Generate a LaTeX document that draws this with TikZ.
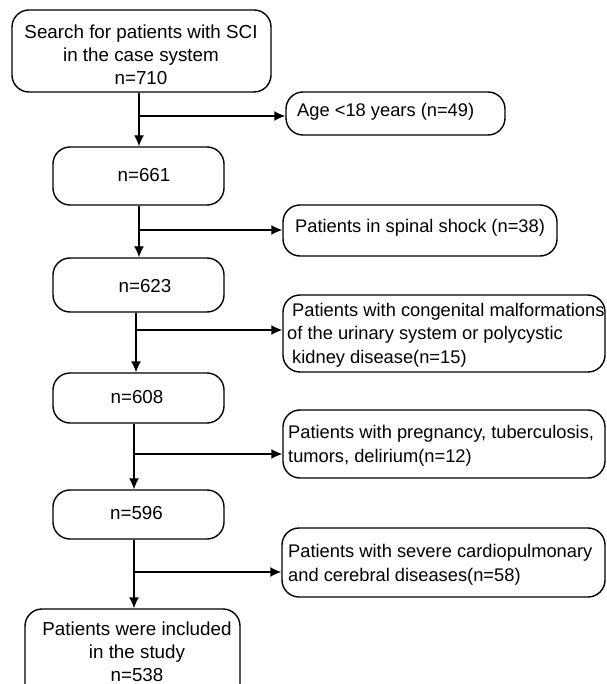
\documentclass[tikz,border=0pt]{standalone}
\usepackage{fontspec}
\setmainfont{Liberation Sans}
\usetikzlibrary{arrows.meta}
\begin{document}
\begin{tikzpicture}[x=1pt,y=1pt,
  box/.style={draw, line width=1.4pt, rounded corners=17pt, inner sep=0pt},
  mtxt/.style={inner sep=0pt, align=center, font=\fontsize{18.8pt}{23pt}\selectfont, anchor=base},
  etxt/.style={inner sep=0pt, align=left, font=\fontsize{18.3pt}{23.5pt}\selectfont, anchor=base west},
  arr/.style={line width=1.4pt, -{Latex[length=11pt,width=10pt]}}]
\clip (0,0) rectangle (606,-684);
\fill[white] (0,0) rectangle (606,-684);
% main column boxes
\node[box, minimum width=259pt, minimum height=82pt] (n1) at (141.5,-51) {};
\node[box, minimum width=171pt, minimum height=58pt] (n2) at (138.5,-176) {};
\node[box, minimum width=171pt, minimum height=54pt] (n3) at (138.5,-285) {};
\node[box, minimum width=171pt, minimum height=50pt] (n4) at (138.5,-398) {};
\node[box, minimum width=171pt, minimum height=49pt] (n5) at (138.5,-514.5) {};
\node[box, minimum width=215pt, minimum height=92pt] (n6) at (132.5,-655) {};
% exclusion boxes
\node[box, minimum width=219pt, minimum height=43pt] (e1) at (395.5,-113.5) {};
\node[box, minimum width=274pt, minimum height=51pt] (e2) at (420,-230.5) {};
\node[box, minimum width=322pt, minimum height=77pt] (e3) at (444,-333.5) {};
\node[box, minimum width=322pt, minimum height=68pt] (e4) at (444,-444) {};
\node[box, minimum width=323pt, minimum height=69pt] (e5) at (443.5,-562.5) {};
% texts (base anchor = baseline of the last line)
\node[mtxt] (t1) at (141,-85) {Search for patients with SCI\\in the case system\\n=710};
\node[mtxt] (t2) at (144,-182) {n=661};
\node[mtxt] (t3) at (145,-292) {n=623};
\node[mtxt] (t4) at (137,-403) {n=608};
\node[mtxt] (t5) at (136.5,-519) {n=596};
\node[mtxt] (t6) at (137,-681) {Patients were included\\in the study\\n=538};
\node[etxt] (s1) at (297,-117) {Age <18 years (n=49)};
\node[etxt] (s2) at (295,-233) {Patients in spinal shock (n=38)};
\node[etxt] (s3) at (287,-363) {\hspace{5pt}Patients with congenital malformations\\of the urinary system or polycystic\\\hspace{5pt}kidney disease(n=15)};
\node[etxt] (s4) at (288,-462) {Patients with pregnancy, tuberculosis,\\tumors, delirium(n=12)};
\node[etxt] (s5) at (288,-581) {Patients with severe cardiopulmonary\\and cerebral diseases(n=58)};
% branch points
\coordinate (b1) at (139,-116);
\coordinate (b2) at (139,-230);
\coordinate (b3) at (136,-330);
\coordinate (b4) at (134,-454);
\coordinate (b5) at (134,-572);
% connectors
\draw[arr] (n1.south -| b1) -- (n2.north -| b1);
\draw[arr] (b1) -- (e1.west |- b1);
\draw[arr] (n2.south -| b2) -- (n3.north -| b2);
\draw[arr] (b2) -- (e2.west |- b2);
\draw[arr] (n3.south -| b3) -- (n4.north -| b3);
\draw[arr] (b3) -- (e3.west |- b3);
\draw[arr] (n4.south -| b4) -- (n5.north -| b4);
\draw[arr] (b4) -- (e4.west |- b4);
\draw[arr] (n5.south -| b5) -- (n6.north -| b5);
\draw[arr] (b5) -- (e5.west |- b5);
\end{tikzpicture}
\end{document}
